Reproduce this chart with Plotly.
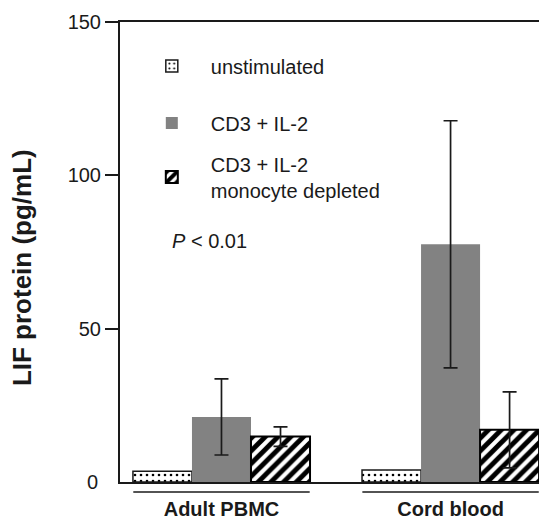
import plotly.graph_objects as go

# ---- data ----
groups = ["Adult PBMC", "Cord blood"]
group_pos = [0, 1]
series_names = ["unstimulated", "CD3 + IL-2", "CD3 + IL-2<br>monocyte depleted"]
unstim = [3.5, 3.9]
cd3 = [21.2, 77.5]
cd3_err = [12.4, 40.3]
depleted = [14.8, 17.0]
depleted_err = [3.2, 12.4]
y_ticks = [50, 100, 150]

FONT = "Liberation Sans, Arial, Helvetica, sans-serif"
INK = "#1a1a1a"

fig = go.Figure()

fig.add_trace(go.Bar(
    x=group_pos, y=unstim, name=series_names[0], legend="legend",
    marker=dict(color="white", line=dict(color=INK, width=1.5),
                pattern=dict(shape=".", fgcolor="#000000", bgcolor="white", size=6,
                             solidity=0.15, fgopacity=1)),
))
fig.add_trace(go.Bar(
    x=group_pos, y=cd3, name=series_names[1], legend="legend2",
    marker=dict(color="#828282", line=dict(color="#828282", width=0)),
    error_y=dict(type="data", array=cd3_err, visible=True, color=INK, thickness=1.7, width=7),
))
fig.add_trace(go.Bar(
    x=group_pos, y=depleted, name=series_names[2], legend="legend3",
    marker=dict(color="white", line=dict(color="#000000", width=2),
                pattern=dict(shape="/", fgcolor="#000000", bgcolor="white", size=9,
                             solidity=0.55, fgopacity=1, fillmode="replace")),
    error_y=dict(type="data", array=depleted_err, visible=True, color=INK, thickness=1.7, width=7),
))

# group underlines
for p in group_pos:
    fig.add_shape(type="line", xref="x", yref="paper",
                  x0=p - 0.385, x1=p + 0.385, y0=-0.022, y1=-0.022,
                  line=dict(color=INK, width=1.5))

# y=0 label (no tick mark in reference)
fig.add_annotation(x=0, xref="paper", y=0, yref="y", text="0", showarrow=False,
                   xanchor="right", xshift=-20, font=dict(family=FONT, size=20, color=INK))

# y-axis title
fig.add_annotation(x=0, xref="paper", xshift=-98, xanchor="center", y=0.465, yref="paper",
                   yanchor="middle", text="<b>LIF protein (pg/mL)</b>", showarrow=False,
                   textangle=-90, font=dict(family=FONT, size=26, color=INK))

# P value
fig.add_annotation(x=0.117, xref="paper", y=0.525, yref="paper", text="<i>P</i> < 0.01",
                   showarrow=False, xanchor="left", font=dict(family=FONT, size=20, color=INK))

leg_common = dict(xanchor="left", yanchor="middle", font=dict(family=FONT, size=20, color=INK),
                  bgcolor="rgba(0,0,0,0)", itemwidth=68, valign="middle")
plot_top, plot_h = 22, 460


def ypaper(px):
    return (plot_top + plot_h - px) / plot_h


# page body has an 8px margin, so the figure is sized/offset to compensate
fig.update_layout(
    width=539, height=511,
    margin=dict(l=112, r=0, t=14, b=37, autoexpand=False),
    paper_bgcolor="white", plot_bgcolor="white",
    barmode="group", bargap=0.227, bargroupgap=0,
    font=dict(family=FONT, size=18, color=INK),
    showlegend=True,
    legend=dict(x=0.03, y=ypaper(66), **leg_common),
    legend2=dict(x=0.03, y=ypaper(123), **leg_common),
    legend3=dict(x=0.03, y=ypaper(177), **leg_common),
    xaxis=dict(range=[-0.443, 1.421], tickvals=group_pos, ticktext=["<b>%s</b>" % g for g in groups],
               ticks="", showline=True, linecolor=INK, linewidth=2, mirror=True,
               showgrid=False, zeroline=False, ticklabelstandoff=8, automargin=False,
               tickfont=dict(family=FONT, size=20, color=INK)),
    yaxis=dict(range=[0, 150], tickvals=y_ticks, ticks="outside", ticklen=13, tickwidth=1.5,
               tickcolor=INK, showline=True, linecolor=INK, linewidth=2, automargin=False,
               showgrid=False, zeroline=False, tickfont=dict(family=FONT, size=20, color=INK)),
)

fig.write_html("out.html")
